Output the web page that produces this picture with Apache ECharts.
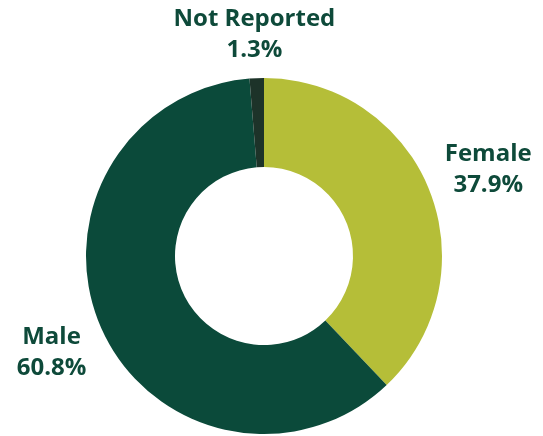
<!DOCTYPE html>
<html>
<head>
<meta charset="utf-8">
<script src="https://cdn.jsdelivr.net/npm/echarts@6/dist/echarts.min.js"></script>
<style>
html,body{margin:0;padding:0;background:#fff;}
#chart{width:543px;height:436px;}
</style>
</head>
<body>
<div id="chart"></div>
<script>
const categories = ['Female', 'Male', 'Not Reported'];
const values = [37.9, 60.8, 1.3];
const colors = ['#b5be38', '#0b4a3a', '#1d3329'];
const labelNudges = [[6, 1], [2, 1], [0, 13]];

const chart = echarts.init(document.getElementById('chart'), null, {renderer: 'canvas'});
const data = categories.map((c, i) => ({name: c, value: values[i], itemStyle: {color: colors[i]}}));
const labelData = categories.map((c, i) => ({name: c, value: values[i], label: {offset: labelNudges[i]}}));

chart.setOption({
  backgroundColor: '#ffffff',
  animation: false,
  series: [
    {
      type: 'pie',
      center: [264, 256],
      radius: [89, 178],
      startAngle: 90,
      clockwise: true,
      silent: true,
      label: {show: false},
      labelLine: {show: false},
      itemStyle: {borderWidth: 0},
      data: data
    },
    {
      type: 'pie',
      center: [264, 256],
      radius: [212, 252],
      startAngle: 90,
      clockwise: true,
      silent: true,
      itemStyle: {color: 'rgba(0,0,0,0)', borderWidth: 0},
      labelLine: {show: false},
      label: {
        show: true,
        position: 'inside',
        formatter: p => p.name + '\n' + p.value.toFixed(1) + '%',
        fontFamily: 'Open Sans',
        fontWeight: 'bold',
        fontSize: 24,
        lineHeight: 31,
        color: '#0e4a3a',
        align: 'center'
      },
      data: labelData
    }
  ]
});
</script>
</body>
</html>
